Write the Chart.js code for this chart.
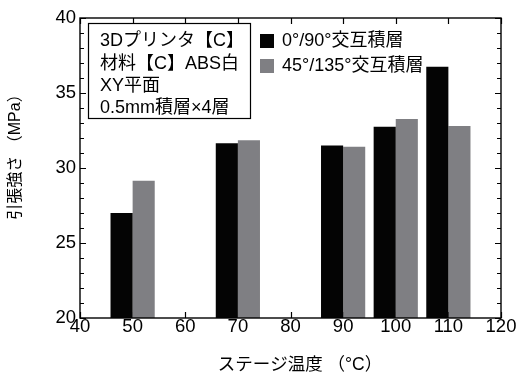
<!DOCTYPE html>
<html>
<head>
<meta charset="utf-8">
<script src="https://cdn.jsdelivr.net/npm/chart.js@4.4.1/dist/chart.umd.min.js"></script>
<style>
  html, body { margin: 0; padding: 0; background: #fff; }
  #wrap { width: 518px; height: 374px; }
</style>
</head>
<body>
<div id="wrap"><canvas id="myChart" width="518" height="374"></canvas></div>
<script>
// stage temperature (°C)
const temps = [50, 70, 90, 100, 110];
// tensile strength (MPa)
const cross0_90 = [27.0, 31.65, 31.5, 32.75, 36.75];
const cross45_135 = [29.15, 31.85, 31.42, 33.27, 32.8];
const seriesNames = ["0°/90°交互積層", "45°/135°交互積層"];
const xTicks = [40, 50, 60, 70, 80, 90, 100, 110, 120];
const yTicks = [20, 25, 30, 35, 40];
const noteLines = ["3Dプリンタ【C】", "材料【C】ABS白", "XY平面", "0.5mm積層×4層"];
const xTitle = "ステージ温度 （°C）";
const yTitle = "引張強さ （MPa）";

const FONT = '"Liberation Sans", Arial, "Noto Sans CJK JP", sans-serif';
const BLACK = "#040404";
const GRAY = "#7f7f83";

const toPoints = (vals) => temps.map((t, i) => ({ x: t, y: vals[i] }));

// ticks inside the frame, drawn before the bars
const frameTicks = {
  id: "frameTicks",
  beforeDatasetsDraw(chart) {
    const { ctx, chartArea: a, scales } = chart;
    ctx.save();
    ctx.strokeStyle = "#000";
    ctx.lineWidth = 1.2;
    ctx.beginPath();
    xTicks.forEach((v) => {
      const px = Math.round(scales.x.getPixelForValue(v)) + 0.5;
      ctx.moveTo(px, a.bottom); ctx.lineTo(px, a.bottom - 6);
      ctx.moveTo(px, a.top); ctx.lineTo(px, a.top + 6);
    });
    for (let v = 20; v <= 40; v++) {
      const len = v % 5 === 0 ? 6 : 4;
      const py = Math.round(scales.y.getPixelForValue(v)) + 0.5;
      ctx.moveTo(a.left, py); ctx.lineTo(a.left + len, py);
      ctx.moveTo(a.right, py); ctx.lineTo(a.right - len, py);
    }
    ctx.stroke();
    ctx.restore();
  },
  afterDatasetsDraw(chart) {
    const { ctx, chartArea: a } = chart;
    ctx.save();
    ctx.strokeStyle = "#000";
    ctx.lineWidth = 1.4;
    ctx.strokeRect(a.left, a.top, a.right - a.left, a.bottom - a.top);

    // note box
    ctx.fillStyle = "#fff";
    ctx.lineWidth = 1.2;
    ctx.fillRect(88.5, 23.5, 162, 95);
    ctx.strokeRect(88.5, 23.5, 162, 95);
    ctx.fillStyle = "#000";
    ctx.font = "18px " + FONT;
    ctx.textBaseline = "middle";
    ctx.textAlign = "left";
    noteLines.forEach((t, i) => ctx.fillText(t, 100, 41.5 + i * 22.3));

    // series legend
    const cols = [BLACK, GRAY];
    seriesNames.forEach((name, i) => {
      const y = 41 + i * 25;
      ctx.fillStyle = cols[i];
      ctx.fillRect(260, y - 7, 14, 14);
      ctx.fillStyle = "#000";
      ctx.fillText(name, 282, y);
    });

    // axis titles
    ctx.font = "17.5px " + FONT;
    ctx.textAlign = "center";
    ctx.fillText(xTitle, 300, 365);
    ctx.translate(16, 153);
    ctx.rotate(-Math.PI / 2);
    ctx.font = "16px " + FONT;
    ctx.fillText(yTitle, 0, 0);
    ctx.restore();
  },
};

const chart = new Chart(document.querySelector("#myChart").getContext("2d"), {
  type: "bar",
  data: {
    datasets: [
      { label: seriesNames[0], data: toPoints(cross0_90), backgroundColor: BLACK },
      { label: seriesNames[1], data: toPoints(cross45_135), backgroundColor: GRAY },
    ],
  },
  options: {
    responsive: false,
    animation: false,
    devicePixelRatio: 1,
    layout: { padding: { left: 0, right: 17, top: 18, bottom: 0 } },
    datasets: { bar: { barPercentage: 1.0, categoryPercentage: 0.84 } },
    plugins: { legend: { display: false }, tooltip: { enabled: false } },
    scales: {
      x: {
        type: "linear",
        min: 40,
        max: 120,
        offset: false,
        afterFit: (s) => { s.height = 56; },
        afterBuildTicks: (s) => { s.ticks = xTicks.map((v) => ({ value: v })); },
        grid: { display: false, drawTicks: false },
        border: { display: false },
        ticks: { color: "#000", padding: -2, maxRotation: 0, font: { family: FONT, size: 18.5 } },
      },
      y: {
        min: 20,
        max: 40,
        afterFit: (s) => { s.width = 80; },
        afterBuildTicks: (s) => { s.ticks = yTicks.map((v) => ({ value: v })); },
        grid: { display: false, drawTicks: false },
        border: { display: false },
        ticks: { color: "#000", padding: 4, font: { family: FONT, size: 18.5 } },
      },
    },
  },
  plugins: [frameTicks],
});
</script>
</body>
</html>
